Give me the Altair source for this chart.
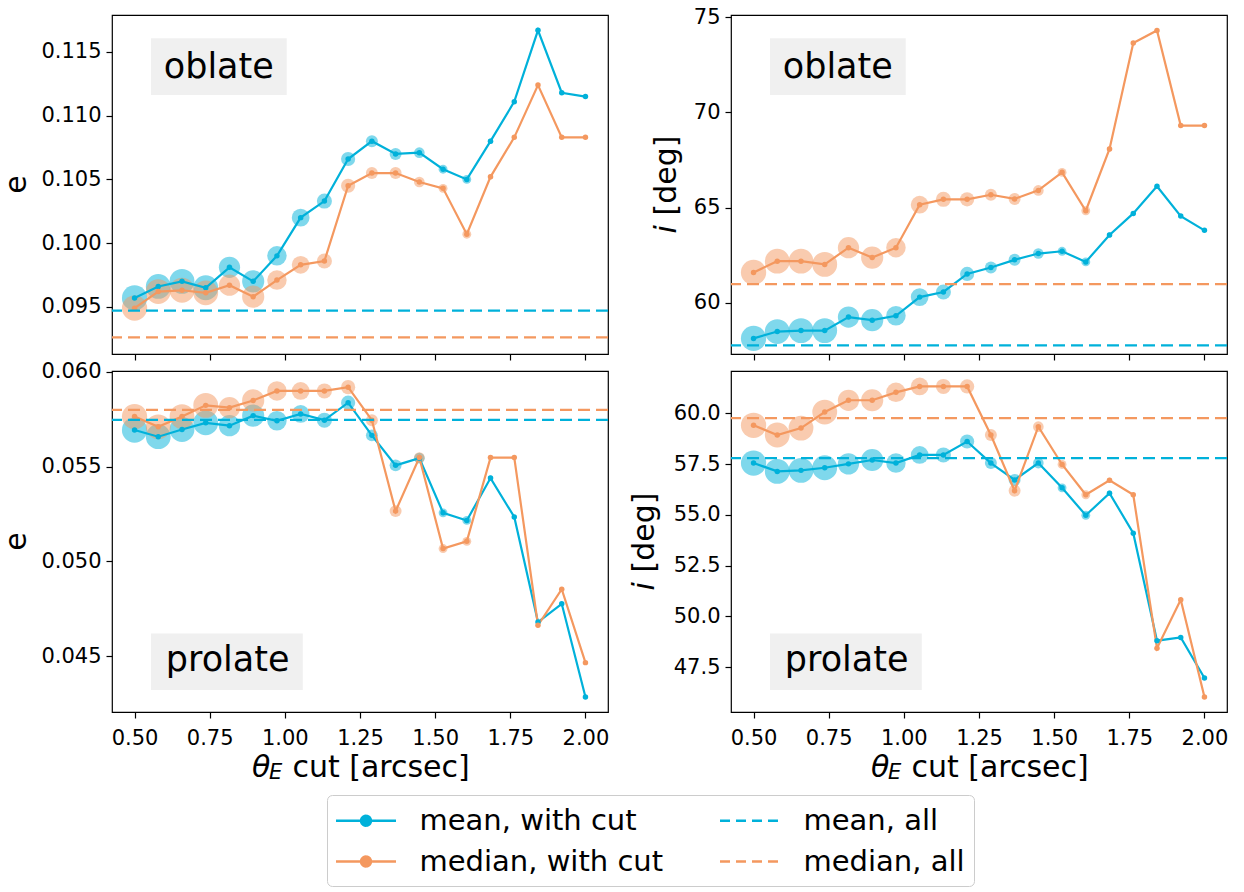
import math
import altair as alt
import pandas as pd

FONT = "DejaVu Sans"
BLUE = "#00b1da"
ORANGE = "#f4985f"

# ---------------- data ----------------
theta_cut = [0.5, 0.5789, 0.6579, 0.7368, 0.8158, 0.8947, 0.9737, 1.0526, 1.1316, 1.2105,
             1.2895, 1.3684, 1.4474, 1.5263, 1.6053, 1.6842, 1.7632, 1.8421, 1.9211, 2.0]
# relative number of lenses surviving the cut (drives the halo area)
n_lenses = [812, 784, 784, 784, 576, 625, 484, 400, 289, 256,
            182, 182, 144, 100, 100, 36, 16, 16, 16, 16]

obl_e_mean = [0.0957, 0.0966, 0.0970, 0.0965, 0.0981, 0.0970, 0.0990, 0.1020, 0.1033, 0.1066,
              0.1080, 0.1070, 0.1071, 0.1058, 0.1050, 0.1080, 0.1111, 0.1167, 0.1118, 0.1115]
obl_e_median = [0.0949, 0.0962, 0.0963, 0.0961, 0.0967, 0.0958, 0.0971, 0.0983, 0.0986, 0.1045,
                0.1055, 0.1055, 0.1048, 0.1043, 0.1007, 0.1052, 0.1083, 0.1124, 0.1083, 0.1083]
obl_e_all = [0.0947, 0.0926]  # mean, median

obl_i_mean = [58.12, 58.48, 58.53, 58.53, 59.24, 59.08, 59.31, 60.29, 60.56, 61.51,
              61.85, 62.25, 62.58, 62.70, 62.14, 63.56, 64.69, 66.12, 64.55, 63.80]
obl_i_median = [61.59, 62.18, 62.18, 62.01, 62.89, 62.37, 62.89, 65.15, 65.43, 65.43,
                65.67, 65.45, 65.90, 66.85, 64.83, 68.08, 73.65, 74.31, 69.31, 69.31]
obl_i_all = [57.75, 60.97]

pro_e_mean = [0.05692, 0.05657, 0.05695, 0.05730, 0.05715, 0.05768, 0.05741, 0.05777, 0.05744, 0.05836,
              0.05664, 0.05506, 0.05544, 0.05256, 0.05216, 0.05439, 0.05234, 0.04681, 0.04777, 0.04286]
pro_e_median = [0.05763, 0.05709, 0.05763, 0.05822, 0.05810, 0.05848, 0.05898, 0.05898, 0.05898, 0.05918,
                0.05744, 0.05265, 0.05547, 0.05068, 0.05106, 0.05547, 0.05547, 0.04664, 0.04854, 0.04467]
pro_e_all = [0.05746, 0.05798]

pro_i_mean = [57.55, 57.14, 57.19, 57.32, 57.51, 57.70, 57.55, 57.95, 57.95, 58.61,
              57.55, 56.72, 57.55, 56.33, 54.98, 56.07, 54.10, 48.81, 48.97, 46.97]
pro_i_median = [59.41, 58.93, 59.27, 60.06, 60.64, 60.64, 61.03, 61.32, 61.32, 61.32,
                58.93, 56.19, 59.34, 57.48, 55.99, 56.70, 55.99, 48.44, 50.82, 46.04]
pro_i_all = [57.79, 59.76]

x_ticks = [0.5, 0.75, 1.0, 1.25, 1.5, 1.75, 2.0]
series_domain = ["mean, with cut", "median, with cut", "mean, all", "median, all"]

# ---------------- layout ----------------
W = 496
H_TOP = 339
H_BOT = 341

# legend symbol: line (+ dot for the "with cut" series)
dot = "".join(("M" if k == 0 else "L") + "%.3f,%.3f" % (0.33 * math.cos(2 * math.pi * k / 20),
                                                        0.33 * math.sin(2 * math.pi * k / 20))
              for k in range(20)) + "Z"
line_path = "M-2,0L2,0"
shape_expr = "indexof(datum.value, 'with cut') >= 0 ? '%s' : '%s'" % (line_path + dot, line_path)
dash_expr = "indexof(datum.value, 'with cut') >= 0 ? [1, 0] : [10, 6]"

legend = alt.Legend(
    title=None, orient="none", legendX=215, legendY=780, columns=2, direction="vertical",
    labelFont=FONT, labelFontSize=29, labelColor="black", labelOffset=37, labelLimit=0,
    symbolSize=900, symbolStrokeWidth=2.5, symbolOpacity=1, symbolOffset=13.5,
    symbolType={"expr": shape_expr},
    symbolFillColor={"expr": "scale('color', datum.value)"},
    symbolDash={"expr": dash_expr},
    strokeColor="#cccccc", fillColor="white", cornerRadius=5, padding=9,
    rowPadding=9, columnPadding=51,
)
color_scale = alt.Scale(domain=series_domain, range=[BLUE, ORANGE, BLUE, ORANGE])


def color_enc(with_legend):
    return alt.Color("series:N", scale=color_scale, legend=legend if with_legend else None)


def text_layer(text, x, y, size=30, angle=0, align="left", italic=False, baseline="alphabetic"):
    return alt.Chart(pd.DataFrame({"t": [text]})).mark_text(
        font=FONT, fontSize=size, angle=angle, align=align, baseline=baseline,
        fontStyle="italic" if italic else "normal", color="black"
    ).encode(x=alt.value(x), y=alt.value(y), text="t:N")


def panel(mean, median, alls, ydom, yticks, yfmt, H, bottom, kind, tag, ylab_x, with_legend=False):
    df = pd.DataFrame({
        "theta": theta_cut + theta_cut,
        "value": mean + median,
        "series": ["mean, with cut"] * len(mean) + ["median, with cut"] * len(median),
        "n": n_lenses + n_lenses,
    })
    hl = pd.DataFrame({"value": alls, "series": ["mean, all", "median, all"]})
    x = alt.X("theta:Q", scale=alt.Scale(domain=[0.425, 2.075], nice=False, zero=False),
              axis=alt.Axis(values=x_ticks, format=".2f", labels=bottom, title=None,
                            labelPadding=9))
    y = alt.Y("value:Q", scale=alt.Scale(domain=ydom, nice=False, zero=False),
              axis=alt.Axis(values=yticks, format=yfmt, title=None, labelPadding=5))
    base = alt.Chart(df).encode(x=x, y=y)
    # first (invisible) layer carries the shared legend definition
    legend_layer = base.mark_line(strokeWidth=2.5).encode(
        color=color_enc(with_legend)).transform_filter("datum.n < 0")
    halos = base.mark_circle(opacity=0.5, strokeWidth=0).encode(
        color=color_enc(False),
        size=alt.Size("n:Q", scale=alt.Scale(domain=[0, 812], range=[0, 638]), legend=None))
    lines = base.mark_line(strokeWidth=2.2).encode(color=color_enc(False))
    dots = base.mark_circle(size=30, opacity=1).encode(color=color_enc(False))
    rules = alt.Chart(hl).mark_rule(strokeDash=[12, 6], strokeWidth=2.2).encode(
        y=alt.Y("value:Q"), color=color_enc(False))

    if tag == "oblate":
        bx2, by1, by2, tx, ty = 174.7, 23.3, 80, 106.8, 62.6
    else:
        bx2, by1, by2, tx, ty = 190.8, H - 78.4, H - 22, 115.7, H - 40.7
    box = alt.Chart(pd.DataFrame({"t": [tag]})).mark_rect(color="#f0f0f0").encode(
        x=alt.value(39), x2=alt.value(bx2), y=alt.value(by1), y2=alt.value(by2))
    tag_text = text_layer(tag, tx, ty, size=35, align="center")

    layers = [legend_layer, halos, lines, dots, rules, box, tag_text]
    if kind == "e":
        layers.append(text_layer("e", ylab_x, H / 2, angle=270, align="center"))
    else:
        layers.append(text_layer("i", ylab_x, H / 2 + 48.9, angle=270, italic=True))
        layers.append(text_layer("[deg]", ylab_x, H / 2 + 31, angle=270))
    if bottom:
        layers.append(text_layer("θ", 140, H + 65.3, italic=True))
        layers.append(text_layer("E", 157, H + 67.3, size=21, italic=True))
        layers.append(text_layer("cut [arcsec]", 180.4, H + 65.3))
    return alt.layer(*layers).properties(width=W, height=H)


tl = panel(obl_e_mean, obl_e_median, obl_e_all, [0.0913, 0.1179],
           [0.095, 0.100, 0.105, 0.110, 0.115], ".3f", H_TOP, False, "e", "oblate", -86.5,
           with_legend=True)
tr = panel(obl_i_mean, obl_i_median, obl_i_all, [57.30, 75.12],
           [60, 65, 70, 75], "d", H_TOP, False, "i", "oblate", -55)
bl = panel(pro_e_mean, pro_e_median, pro_e_all, [0.04207, 0.06003],
           [0.045, 0.050, 0.055, 0.060], ".3f", H_BOT, True, "e", "prolate", -86.5)
br = panel(pro_i_mean, pro_i_median, pro_i_all, [45.30, 62.08],
           [47.5, 50.0, 52.5, 55.0, 57.5, 60.0], ".1f", H_BOT, True, "i", "prolate", -76.6)

chart = alt.concat(tl, tr, bl, br, columns=2, spacing={"row": 17, "column": 123},
                   bounds="flush").properties(
    padding={"left": -8, "top": -3, "right": 0, "bottom": 0}, background="white"
).configure_view(stroke="black", strokeWidth=1.2).configure_axis(
    domain=False, grid=False, tickColor="black", tickSize=6, tickWidth=1.2,
    labelFont=FONT, labelFontSize=21, labelColor="black"
).resolve_scale(color="shared", x="independent", y="independent")

chart.save("out.html", embed_options={"renderer": "svg", "actions": False})
